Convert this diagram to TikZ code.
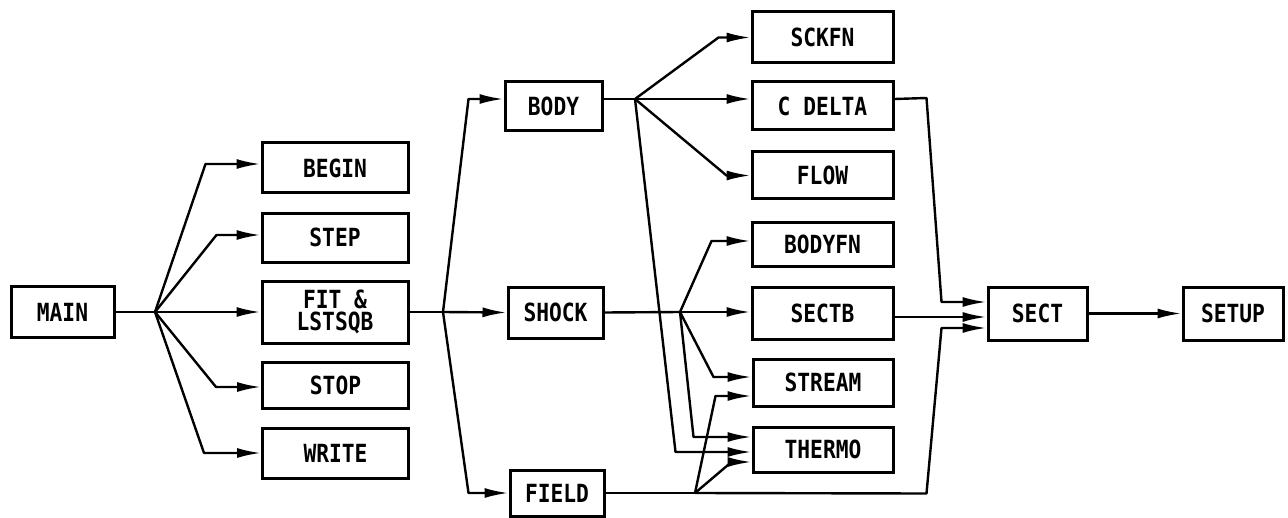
\documentclass[tikz,border=0pt]{standalone}
\usepackage{fontspec}
\newfontfamily\lbl{DejaVu Sans Mono}[FakeStretch=0.85]
\usetikzlibrary{arrows.meta}
\begin{document}
\begin{tikzpicture}[x=0.5pt,y=-0.5pt,
  box/.style={draw,line width=1.5pt,inner sep=0pt,minimum width=73pt,
    font=\lbl\bfseries\fontsize{12.5}{11}\selectfont,align=center},
  conn/.style={line width=1.2pt,line join=round},
  arr/.style={conn,-{Latex[length=12pt,width=5pt]}}]
\useasboundingbox (0,0) rectangle (1288,518);
% left column
\node[box,minimum width=51.5pt,minimum height=25.5pt] (main) at (62.5,312) {MAIN};
\node[box,minimum height=25pt] (begin) at (335,168) {BEGIN};
\node[box,minimum height=24.5pt] (stp) at (335,237.5) {STEP};
\node[box,minimum height=31pt] (fit) at (335,312) {FIT \&\\LSTSQB};
\node[box,minimum height=23pt] (stop) at (335.5,385) {STOP};
\node[box,minimum height=25pt] (write) at (335.5,453) {WRITE};
% middle column
\node[box,minimum width=48.5pt,minimum height=24.5pt] (body) at (553.5,106.5) {BODY};
\node[box,minimum width=47.5pt,minimum height=25.5pt] (shock) at (555.5,312.5) {SHOCK};
\node[box,minimum width=47pt,minimum height=23pt] (field) at (557,493) {FIELD};
% right column
\node[box,minimum width=70.5pt,minimum height=25.5pt] (sckfn) at (822.5,37.5) {SCKFN};
\node[box,minimum width=70.5pt,minimum height=24pt] (cdelta) at (822.5,106) {C DELTA};
\node[box,minimum width=70.5pt,minimum height=23.5pt] (flow) at (822.5,175.5) {FLOW};
\node[box,minimum width=70.5pt,minimum height=22pt] (bodyfn) at (822.5,244) {BODYFN};
\node[box,minimum width=70.5pt,minimum height=26pt] (sectb) at (822.5,313) {SECTB};
\node[box,minimum width=70pt,minimum height=23.5pt] (stream) at (823,382.5) {STREAM};
\node[box,minimum width=70pt,minimum height=22.5pt] (thermo) at (823,449.5) {THERMO};
\node[box,minimum width=49.5pt,minimum height=26.5pt] (sect) at (1037.5,313.5) {SECT};
\node[box,minimum width=50pt,minimum height=26.5pt] (setup) at (1233,313.5) {SETUP};
% fan points
\coordinate (f1) at (155,312);
\coordinate (f2) at (443,312);
\coordinate (f3) at (635,99);
\coordinate (f4) at (680,312);
\coordinate (f5) at (695,493);
% MAIN fan
\draw[conn] (main.east) -- (f1);
\draw[arr] (f1) -- ([xshift=-27.5pt,yshift=2pt]begin.west) -- ([yshift=2pt]begin.west);
\draw[arr] (f1) -- ([xshift=-22pt,yshift=1.25pt]stp.west) -- ([yshift=1.25pt]stp.west);
\draw[arr] (f1) -- (fit.west);
\draw[arr] (f1) -- ([xshift=-22.5pt,yshift=-1pt]stop.west) -- ([yshift=-1pt]stop.west);
\draw[arr] (f1) -- ([xshift=-28.5pt]write.west) -- (write.west);
% FIT fan
\draw[conn] (fit.east) -- (f2);
\draw[arr] (f2) -- ([xshift=-17.5pt,yshift=3.75pt]body.west) -- ([yshift=3.75pt]body.west);
\draw[arr] (f2) -- (shock.west);
\draw[arr] (f2) -- ([xshift=-20pt]field.west) -- (field.west);
% BODY fan
\draw[conn] ([yshift=3.75pt]body.east) -- (f3);
\draw[arr] (f3) -- ([xshift=-16pt]sckfn.west) -- (sckfn.west);
\draw[arr] (f3) -- ([yshift=3.5pt]cdelta.west);
\draw[arr] (f3) -- ([xshift=-12pt]flow.west) -- (flow.west);
\draw[arr] (f3) -- ([xshift=-38pt,yshift=-1.25pt]thermo.west) -- ([yshift=-1.25pt]thermo.west);
% SHOCK fan
\draw[conn] (shock.east) -- (f4);
\draw[arr] (f4) -- ([xshift=-19.5pt,yshift=1.5pt]bodyfn.west) -- ([yshift=1.5pt]bodyfn.west);
\draw[arr] (f4) -- ([yshift=0.5pt]sectb.west);
\draw[arr] (f4) -- ([xshift=-19pt,yshift=2.75pt]stream.west) -- ([yshift=2.75pt]stream.west);
\draw[arr] (f4) -- ([xshift=-29pt,yshift=6.25pt]thermo.west) -- ([yshift=6.25pt]thermo.west);
% FIELD fan
\draw[conn] (field.east) -- (f5);
\draw[arr] (f5) -- ([xshift=-18pt,yshift=-6.75pt]stream.west) -- ([yshift=-6.75pt]stream.west);
\draw[arr] (f5) -- ([xshift=-10pt,yshift=-6.25pt]thermo.west) -- ([yshift=-6.25pt]thermo.west);
\draw[arr] (f5) -- ([xshift=-30pt,yshift=-90pt]sect.west) -- ([xshift=-22.5pt,yshift=-7.25pt]sect.west) -- ([yshift=-7.25pt]sect.west);
% into SECT
\draw[arr] ([yshift=3.5pt]cdelta.east) -- ([xshift=-30pt,yshift=107.75pt]sect.west) -- ([xshift=-22.5pt,yshift=5.75pt]sect.west) -- ([yshift=5.75pt]sect.west);
\draw[arr] ([yshift=-2pt]sectb.east) -- ([yshift=-1.75pt]sect.west);
\draw[arr] (sect.east) -- (setup.west);
\end{tikzpicture}
\end{document}
